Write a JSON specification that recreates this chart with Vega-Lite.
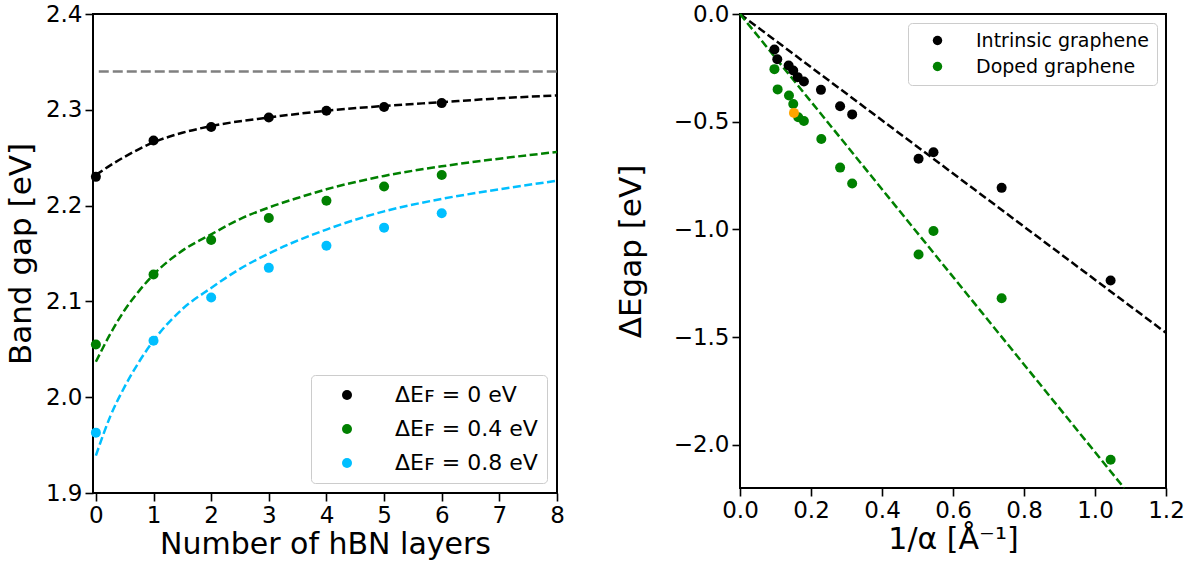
{
  "$schema": "https://vega.github.io/schema/vega-lite/v6.json",
  "padding": {"left": 4, "top": 2, "right": 5, "bottom": 2},
  "spacing": 48,
  "resolve": {"scale": {"color": "independent", "stroke": "independent"}, "legend": {"color": "independent"}},
  "config": {
    "font": "DejaVu Sans",
    "view": {"stroke": "black", "strokeWidth": 2},
    "axis": {
      "domain": false,
      "grid": false,
      "ticks": true,
      "tickColor": "black",
      "tickWidth": 1.6,
      "tickSize": 8,
      "labelFont": "DejaVu Sans",
      "labelFontSize": 23,
      "labelColor": "black",
      "labelPadding": 3,
      "labelFlush": false,
      "labelOverlap": false,
      "titleFont": "DejaVu Sans",
      "titleFontSize": 30,
      "titleFontWeight": "normal",
      "titleColor": "black"
    },
    "axisY": {"titleFontSize": 31, "titlePadding": 8},
    "axisX": {"titlePadding": 2},
    "legend": {
      "labelFont": "DejaVu Sans",
      "labelColor": "black",
      "labelLimit": 0,
      "fillColor": "white",
      "strokeColor": "#cccccc",
      "cornerRadius": 4,
      "symbolType": "circle",
      "symbolStrokeWidth": 0,
      "titleFontSize": 0
    }
  },
  "datasets": {
    "ptsL": [
      {"n": 0, "gap": 2.230, "series": "ΔEꜰ = 0 eV"},
      {"n": 1, "gap": 2.268, "series": "ΔEꜰ = 0 eV"},
      {"n": 2, "gap": 2.282, "series": "ΔEꜰ = 0 eV"},
      {"n": 3, "gap": 2.292, "series": "ΔEꜰ = 0 eV"},
      {"n": 4, "gap": 2.299, "series": "ΔEꜰ = 0 eV"},
      {"n": 5, "gap": 2.303, "series": "ΔEꜰ = 0 eV"},
      {"n": 6, "gap": 2.307, "series": "ΔEꜰ = 0 eV"},
      {"n": 0, "gap": 2.055, "series": "ΔEꜰ = 0.4 eV"},
      {"n": 1, "gap": 2.128, "series": "ΔEꜰ = 0.4 eV"},
      {"n": 2, "gap": 2.164, "series": "ΔEꜰ = 0.4 eV"},
      {"n": 3, "gap": 2.187, "series": "ΔEꜰ = 0.4 eV"},
      {"n": 4, "gap": 2.205, "series": "ΔEꜰ = 0.4 eV"},
      {"n": 5, "gap": 2.220, "series": "ΔEꜰ = 0.4 eV"},
      {"n": 6, "gap": 2.232, "series": "ΔEꜰ = 0.4 eV"},
      {"n": 0, "gap": 1.963, "series": "ΔEꜰ = 0.8 eV"},
      {"n": 1, "gap": 2.059, "series": "ΔEꜰ = 0.8 eV"},
      {"n": 2, "gap": 2.104, "series": "ΔEꜰ = 0.8 eV"},
      {"n": 3, "gap": 2.135, "series": "ΔEꜰ = 0.8 eV"},
      {"n": 4, "gap": 2.158, "series": "ΔEꜰ = 0.8 eV"},
      {"n": 5, "gap": 2.177, "series": "ΔEꜰ = 0.8 eV"},
      {"n": 6, "gap": 2.192, "series": "ΔEꜰ = 0.8 eV"}
    ],
    "fitL": [
      {"n": 0, "gap": 2.232, "series": "k"},
      {"n": 0.25, "gap": 2.242, "series": "k"},
      {"n": 0.5, "gap": 2.251, "series": "k"},
      {"n": 0.75, "gap": 2.259, "series": "k"},
      {"n": 1, "gap": 2.266, "series": "k"},
      {"n": 1.5, "gap": 2.276, "series": "k"},
      {"n": 2, "gap": 2.283, "series": "k"},
      {"n": 3, "gap": 2.292, "series": "k"},
      {"n": 4, "gap": 2.299, "series": "k"},
      {"n": 5, "gap": 2.304, "series": "k"},
      {"n": 6, "gap": 2.308, "series": "k"},
      {"n": 7, "gap": 2.312, "series": "k"},
      {"n": 8, "gap": 2.315, "series": "k"},
      {"n": 0, "gap": 2.037, "series": "g"},
      {"n": 0.25, "gap": 2.066, "series": "g"},
      {"n": 0.5, "gap": 2.091, "series": "g"},
      {"n": 0.75, "gap": 2.111, "series": "g"},
      {"n": 1, "gap": 2.128, "series": "g"},
      {"n": 1.5, "gap": 2.153, "series": "g"},
      {"n": 2, "gap": 2.170, "series": "g"},
      {"n": 2.5, "gap": 2.186, "series": "g"},
      {"n": 3, "gap": 2.198, "series": "g"},
      {"n": 3.5, "gap": 2.208, "series": "g"},
      {"n": 4, "gap": 2.217, "series": "g"},
      {"n": 5, "gap": 2.231, "series": "g"},
      {"n": 6, "gap": 2.241, "series": "g"},
      {"n": 7, "gap": 2.249, "series": "g"},
      {"n": 8, "gap": 2.256, "series": "g"},
      {"n": 0, "gap": 1.939, "series": "b"},
      {"n": 0.25, "gap": 1.980, "series": "b"},
      {"n": 0.5, "gap": 2.011, "series": "b"},
      {"n": 0.75, "gap": 2.037, "series": "b"},
      {"n": 1, "gap": 2.059, "series": "b"},
      {"n": 1.5, "gap": 2.092, "series": "b"},
      {"n": 2, "gap": 2.114, "series": "b"},
      {"n": 2.5, "gap": 2.134, "series": "b"},
      {"n": 3, "gap": 2.150, "series": "b"},
      {"n": 4, "gap": 2.175, "series": "b"},
      {"n": 5, "gap": 2.194, "series": "b"},
      {"n": 6, "gap": 2.207, "series": "b"},
      {"n": 7, "gap": 2.217, "series": "b"},
      {"n": 8, "gap": 2.226, "series": "b"}
    ],
    "asym": [
      {"n": 0.05, "gap": 2.34},
      {"n": 8, "gap": 2.34}
    ],
    "ptsR": [
      {"x": 0.097, "y": -0.165, "series": "Intrinsic graphene"},
      {"x": 0.105, "y": -0.210, "series": "Intrinsic graphene"},
      {"x": 0.137, "y": -0.239, "series": "Intrinsic graphene"},
      {"x": 0.150, "y": -0.262, "series": "Intrinsic graphene"},
      {"x": 0.1625, "y": -0.293, "series": "Intrinsic graphene"},
      {"x": 0.180, "y": -0.313, "series": "Intrinsic graphene"},
      {"x": 0.228, "y": -0.352, "series": "Intrinsic graphene"},
      {"x": 0.282, "y": -0.428, "series": "Intrinsic graphene"},
      {"x": 0.316, "y": -0.466, "series": "Intrinsic graphene"},
      {"x": 0.503, "y": -0.672, "series": "Intrinsic graphene"},
      {"x": 0.545, "y": -0.642, "series": "Intrinsic graphene"},
      {"x": 0.737, "y": -0.807, "series": "Intrinsic graphene"},
      {"x": 1.044, "y": -1.237, "series": "Intrinsic graphene"},
      {"x": 0.097, "y": -0.256, "series": "Doped graphene"},
      {"x": 0.106, "y": -0.350, "series": "Doped graphene"},
      {"x": 0.138, "y": -0.378, "series": "Doped graphene"},
      {"x": 0.150, "y": -0.418, "series": "Doped graphene"},
      {"x": 0.164, "y": -0.479, "series": "Doped graphene"},
      {"x": 0.180, "y": -0.497, "series": "Doped graphene"},
      {"x": 0.229, "y": -0.580, "series": "Doped graphene"},
      {"x": 0.282, "y": -0.713, "series": "Doped graphene"},
      {"x": 0.316, "y": -0.787, "series": "Doped graphene"},
      {"x": 0.503, "y": -1.116, "series": "Doped graphene"},
      {"x": 0.545, "y": -1.007, "series": "Doped graphene"},
      {"x": 0.737, "y": -1.319, "series": "Doped graphene"},
      {"x": 1.044, "y": -2.069, "series": "Doped graphene"},
      {"x": 0.152, "y": -0.459, "series": "Highlighted"}
    ],
    "linesR": [
      {"x": 0, "y": 0, "series": "Intrinsic"},
      {"x": 1.2, "y": -1.48, "series": "Intrinsic"},
      {"x": 0, "y": 0, "series": "Doped"},
      {"x": 1.082, "y": -2.2, "series": "Doped"}
    ]
  },
  "hconcat": [
    {
      "width": 464,
      "height": 479,
      "layer": [
        {
          "data": {"name": "asym"},
          "mark": {"type": "line", "color": "#808080", "strokeWidth": 2.5, "strokeDash": [10, 4]},
          "encoding": {
            "x": {"field": "n", "type": "quantitative", "scale": {"domain": [-0.05, 8], "nice": false, "zero": false},
                  "axis": {"values": [0, 1, 2, 3, 4, 5, 6, 7, 8], "format": "d", "title": "Number of hBN layers"}},
            "y": {"field": "gap", "type": "quantitative", "scale": {"domain": [1.9, 2.4], "nice": false, "zero": false},
                  "axis": {"values": [1.9, 2.0, 2.1, 2.2, 2.3, 2.4], "format": ".1f", "title": "Band gap [eV]"}}
          }
        },
        {
          "data": {"name": "fitL"},
          "mark": {"type": "line", "strokeWidth": 2.5, "strokeDash": [8, 3.5], "interpolate": "monotone"},
          "encoding": {
            "x": {"field": "n", "type": "quantitative"},
            "y": {"field": "gap", "type": "quantitative"},
            "stroke": {"field": "series", "type": "nominal",
                       "scale": {"domain": ["k", "g", "b"], "range": ["#000000", "#008000", "#00bfff"]},
                       "legend": null}
          }
        },
        {
          "data": {"name": "ptsL"},
          "mark": {"type": "circle", "size": 100, "opacity": 1},
          "encoding": {
            "x": {"field": "n", "type": "quantitative"},
            "y": {"field": "gap", "type": "quantitative"},
            "color": {"field": "series", "type": "nominal",
                      "scale": {"domain": ["ΔEꜰ = 0 eV", "ΔEꜰ = 0.4 eV", "ΔEꜰ = 0.8 eV"], "range": ["#000000", "#008000", "#00bfff"]},
                      "legend": {"orient": "bottom-right", "offset": 10, "title": null,
                                 "labelFontSize": 22, "symbolSize": 100, "padding": 9,
                                 "symbolOffset": 16, "labelOffset": 37, "rowPadding": 12}}
          }
        }
      ]
    },
    {
      "width": 426,
      "height": 474,
      "layer": [
        {
          "data": {"name": "linesR"},
          "mark": {"type": "line", "strokeWidth": 2.5, "strokeDash": [8, 3.5]},
          "encoding": {
            "x": {"field": "x", "type": "quantitative", "scale": {"domain": [0, 1.2], "nice": false, "zero": false},
                  "axis": {"values": [0, 0.2, 0.4, 0.6, 0.8, 1.0, 1.2], "format": ".1f", "title": "1/α [Å⁻¹]"}},
            "y": {"field": "y", "type": "quantitative", "scale": {"domain": [-2.2, 0], "nice": false, "zero": false},
                  "axis": {"values": [-2.0, -1.5, -1.0, -0.5, 0.0], "format": ".1f", "title": "ΔEgap [eV]", "titlePadding": 26}},
            "stroke": {"field": "series", "type": "nominal",
                       "scale": {"domain": ["Intrinsic", "Doped"], "range": ["#000000", "#008000"]},
                       "legend": null}
          }
        },
        {
          "data": {"name": "ptsR"},
          "mark": {"type": "circle", "size": 100, "opacity": 1},
          "encoding": {
            "x": {"field": "x", "type": "quantitative"},
            "y": {"field": "y", "type": "quantitative"},
            "color": {"field": "series", "type": "nominal",
                      "scale": {"domain": ["Intrinsic graphene", "Doped graphene", "Highlighted"], "range": ["#000000", "#008000", "#ffa500"]},
                      "legend": {"orient": "top-right", "offset": 9, "title": null,
                                 "values": ["Intrinsic graphene", "Doped graphene"],
                                 "labelFontSize": 19, "symbolSize": 90, "padding": 8,
                                 "symbolOffset": 12, "labelOffset": 29, "rowPadding": 6}}
          }
        }
      ]
    }
  ]
}
